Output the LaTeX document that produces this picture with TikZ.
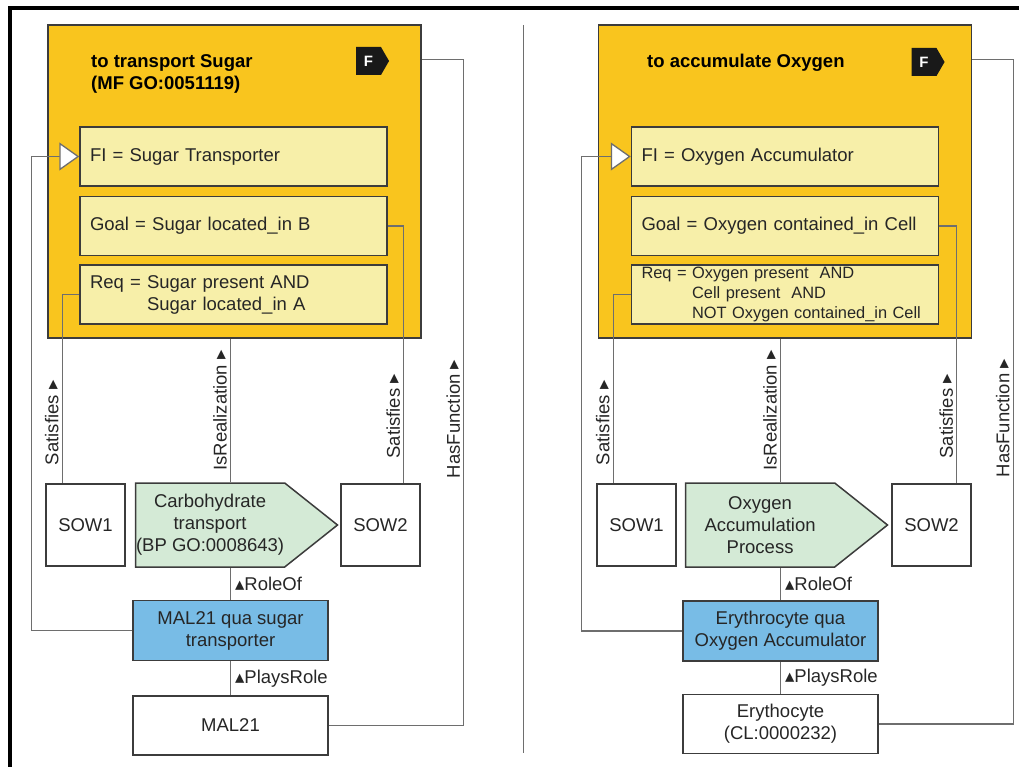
\documentclass[tikz,border=0pt]{standalone}
\usepackage{fontspec}
\setmainfont{Liberation Sans}
\newfontfamily\symfont{DejaVu Sans}
\usetikzlibrary{arrows.meta, positioning, shapes.symbols}

\definecolor{fgold}{HTML}{F9C51E}
\definecolor{fpale}{HTML}{F7EFA9}
\definecolor{pgreen}{HTML}{D4EAD6}
\definecolor{rblue}{HTML}{78BCE6}
\definecolor{edge}{HTML}{3C3C3C}
\definecolor{wire}{HTML}{6E6E6E}

\newcommand{\uptri}{{\symfont\char"25B4}}
\newcommand{\rttri}{{\symfont\char"25B8}}

\begin{document}
\begin{tikzpicture}[x=1pt, y=-1pt,
    every node/.style={font=\fontsize{18.5}{22}\selectfont, text=black!85},
    fbox/.style={draw=edge, line width=1.6pt, fill=fgold, minimum width=373pt, minimum height=313pt, inner sep=0},
    ftitle/.style={anchor=north west, align=left, inner sep=0, font=\fontsize{18.5}{22}\selectfont\bfseries, text=black},
    ftag/.style={signal, signal to=east, signal pointer angle=120, fill=black!90, text=white, minimum width=33pt, minimum height=28pt, inner sep=0, font=\fontsize{15}{18}\selectfont\bfseries},
    ibox/.style={draw=edge, line width=1.5pt, fill=fpale, text width=287pt, inner xsep=10pt, inner ysep=0, minimum height=59pt, align=left},
    sbox/.style={draw=edge, line width=1.5pt, fill=white, minimum width=79pt, minimum height=82pt, inner sep=0},
    pbox/.style={signal, signal to=east, signal pointer angle=77, draw=edge, line width=1.5pt, fill=pgreen, minimum width=202pt, minimum height=84pt, inner sep=0, align=center},
    rbox/.style={draw=edge, line width=1.5pt, fill=rblue, minimum width=195pt, minimum height=60pt, inner sep=0, align=center},
    obox/.style={draw=edge, line width=1.5pt, fill=white, minimum width=195pt, minimum height=59pt, inner sep=0, align=center},
    link/.style={draw=wire, line width=1.3pt},
    fiarrow/.style={link, -{Triangle[length=20pt, width=28pt, fill=white, line width=1.3pt]}},
    lbl/.style={inner xsep=4pt, inner ysep=0},
    vlbl/.style={rotate=90, anchor=south, inner xsep=0, inner ysep=3pt}
]
\useasboundingbox (0,0) rectangle (1019,767);

% Frame
\draw[line width=4pt] (9.5,767) -- (9.5,8.5) -- (1019,8.5);
\draw[link, line width=1pt] (523,25) -- (523,753);

% Panel (a)
\node[fbox] (a1) at (234.5,181.5) {};
\node[ftitle] (a2) at (91,54) {to transport Sugar\\(MF GO:0051119)};
\node[ftag] (a3) at (368.5,61) {F};
\node[ibox] (a4) at (233.5,156.5) {FI = Sugar Transporter};
\node[ibox, below=9pt of a4] (a5) {Goal = Sugar located\_in B};
\node[ibox, below=8pt of a5] (a6) {Req = Sugar present AND\\\hphantom{Req = }Sugar located\_in A};
\node[sbox] (a7) at (85.5,525) {SOW1};
\node[pbox, right=9pt of a7] (a8) {Carbohydrate\\transport\\(BP GO:0008643)};
\node[sbox] (a9) at (380.5,525) {SOW2};
\node[rbox] (a10) at (230.5,630.5) {MAL21 qua sugar\\transporter};
\node[obox, below=34pt of a10] (a11) {MAL21};
\draw[fiarrow] (a10.west) -- ++(-101,0) |- (a4.west);
\draw[link] (a6.west) -| ([xshift=17pt]a7.north west) node[vlbl, pos=0.84] {Satisfies \rttri};
\draw[link] (a5.east) -| ([xshift=-17pt]a9.north east) node[vlbl, pos=0.87] {Satisfies \rttri};
\draw[link] (a1.south -| a10.north) -- (a8.north -| a10.north) node[vlbl, midway] {IsRealization \rttri};
\draw[link] (a8.south -| a10.north) -- (a10.north) node[lbl, midway, right] {\uptri RoleOf};
\draw[link] (a10.south) -- (a11.north) node[lbl, midway, right] {\uptri PlaysRole};
\draw[link] ([yshift=-35pt]a1.north east) -- ++(42,0) |- (a11.east) node[vlbl, pos=0.27] {HasFunction \rttri};

% Panel (b)
\node[fbox] (b1) at (785,181.5) {};
\node[ftitle] (b2) at (647,54) {to accumulate Oxygen};
\node[ftag] (b3) at (924,62) {F};
\node[ibox] (b4) at (785,156.5) {FI = Oxygen Accumulator};
\node[ibox, below=9pt of b4] (b5) {Goal = Oxygen contained\_in Cell};
\node[ibox, below=8pt of b5, font=\fontsize{16.4}{20}\selectfont] (b6) {Req = Oxygen present\ \ AND\\\hphantom{Req = }Cell present\ \ AND\\\hphantom{Req = }NOT Oxygen contained\_in Cell};
\node[sbox] (b7) at (636.5,525) {SOW1};
\node[pbox, right=8pt of b7] (b8) {Oxygen\\Accumulation\\Process};
\node[sbox] (b9) at (931.5,525) {SOW2};
\node[rbox] (b10) at (780.5,631) {Erythrocyte qua\\Oxygen Accumulator};
\node[obox, below=32pt of b10] (b11) {Erythocyte\\(CL:0000232)};
\draw[fiarrow] (b10.west) -- ++(-101,0) |- (b4.west);
\draw[link] (b6.west) -| ([xshift=17pt]b7.north west) node[vlbl, pos=0.84] {Satisfies \rttri};
\draw[link] (b5.east) -| ([xshift=-15pt]b9.north east) node[vlbl, pos=0.87] {Satisfies \rttri};
\draw[link] (b1.south -| b10.north) -- (b8.north -| b10.north) node[vlbl, midway] {IsRealization \rttri};
\draw[link] (b8.south -| b10.north) -- (b10.north) node[lbl, midway, right] {\uptri RoleOf};
\draw[link] (b10.south) -- (b11.north) node[lbl, midway, right] {\uptri PlaysRole};
\draw[link] ([yshift=-35pt]b1.north east) -- ++(41,0) |- (b11.east) node[vlbl, pos=0.27] {HasFunction \rttri};

\end{tikzpicture}
\end{document}
